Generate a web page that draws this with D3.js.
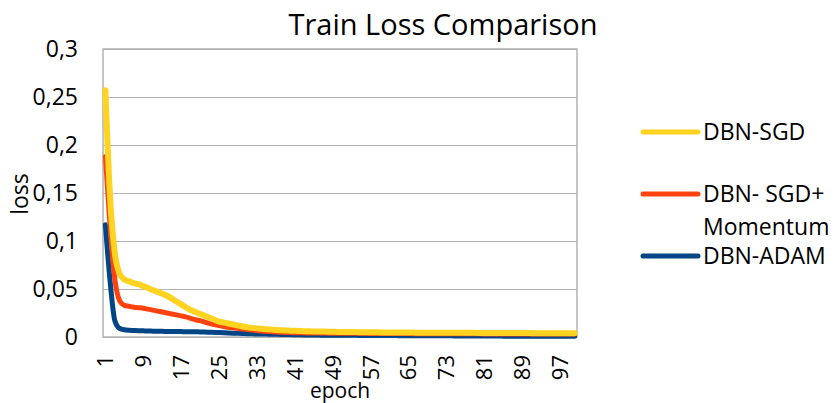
<!DOCTYPE html>
<html>
<head>
<meta charset="utf-8">
<script src="https://cdn.jsdelivr.net/npm/d3@7"></script>
<style>
  body { margin: 0; background: #fff; }
  svg { font-family: "Open Sans", sans-serif; }
</style>
</head>
<body>
<div id="chart"></div>
<script>
// epochs 1..100
const epochs = d3.range(1, 101);
const xTickLabels = [1, 9, 17, 25, 33, 41, 49, 57, 65, 73, 81, 89, 97];
const yTicks = [0, 0.05, 0.1, 0.15, 0.2, 0.25, 0.3];

const seriesNames = ["DBN-SGD", "DBN- SGD+ Momentum", "DBN-ADAM"];

const sgd = [
  0.257, 0.145, 0.087, 0.066, 0.060, 0.058, 0.056, 0.055, 0.053, 0.051,
  0.049, 0.047, 0.045, 0.043, 0.040, 0.037, 0.034, 0.031, 0.028, 0.026,
  0.024, 0.022, 0.020, 0.018, 0.016, 0.015, 0.014, 0.013, 0.012, 0.011,
  0.010, 0.0095, 0.009, 0.0085, 0.008, 0.0077, 0.0074, 0.0071, 0.0068, 0.0066,
  0.0064, 0.0062, 0.006, 0.0059, 0.0058, 0.0057, 0.0056, 0.0055, 0.0054, 0.0053,
  0.0052, 0.0052, 0.0051, 0.0051, 0.005, 0.005, 0.0049, 0.0049, 0.0048, 0.0048,
  0.0047, 0.0047, 0.0047, 0.0046, 0.0046, 0.0046, 0.0045, 0.0045, 0.0045, 0.0045,
  0.0044, 0.0044, 0.0044, 0.0044, 0.0043, 0.0043, 0.0043, 0.0043, 0.0043, 0.0042,
  0.0042, 0.0042, 0.0042, 0.0042, 0.0041, 0.0041, 0.0041, 0.0041, 0.0041, 0.0041,
  0.004, 0.004, 0.004, 0.004, 0.004, 0.004, 0.004, 0.0039, 0.0039, 0.0039
];

const sgdMomentum = [
  0.188, 0.115, 0.060, 0.038, 0.033, 0.032, 0.031, 0.0305, 0.030, 0.029,
  0.028, 0.027, 0.026, 0.025, 0.024, 0.023, 0.022, 0.021, 0.0195, 0.018,
  0.017, 0.0155, 0.014, 0.013, 0.012, 0.011, 0.010, 0.0095, 0.009, 0.0083,
  0.0077, 0.0072, 0.0067, 0.0062, 0.0058, 0.0055, 0.0052, 0.005, 0.0048, 0.0046,
  0.0045, 0.0044, 0.0043, 0.0042, 0.0042, 0.0041, 0.0041, 0.004, 0.004, 0.004,
  0.0039, 0.0039, 0.0039, 0.0038, 0.0038, 0.0038, 0.0037, 0.0037, 0.0037, 0.0037,
  0.0036, 0.0036, 0.0036, 0.0036, 0.0036, 0.0035, 0.0035, 0.0035, 0.0035, 0.0035,
  0.0034, 0.0034, 0.0034, 0.0034, 0.0034, 0.0033, 0.0033, 0.0033, 0.0033, 0.0033,
  0.0032, 0.0032, 0.0032, 0.0032, 0.0032, 0.0031, 0.0031, 0.0031, 0.0031, 0.0031,
  0.0031, 0.003, 0.003, 0.003, 0.003, 0.003, 0.003, 0.003, 0.003, 0.003
];

const adam = [
  0.117, 0.058, 0.017, 0.009, 0.0075, 0.007, 0.0068, 0.0066, 0.0064, 0.0062,
  0.0061, 0.006, 0.0059, 0.0058, 0.0057, 0.0057, 0.0056, 0.0055, 0.0055, 0.0054,
  0.0053, 0.0052, 0.005, 0.0048, 0.0046, 0.0044, 0.0042, 0.004, 0.0038, 0.0036,
  0.0034, 0.0033, 0.0032, 0.0031, 0.003, 0.0029, 0.0028, 0.0027, 0.0026, 0.0025,
  0.0024, 0.0023, 0.0022, 0.0021, 0.002, 0.002, 0.0019, 0.0019, 0.0018, 0.0018,
  0.0018, 0.0017, 0.0017, 0.0017, 0.0016, 0.0016, 0.0016, 0.0016, 0.0015, 0.0015,
  0.0015, 0.0015, 0.0014, 0.0014, 0.0014, 0.0014, 0.0013, 0.0013, 0.0013, 0.0013,
  0.0012, 0.0012, 0.0012, 0.0012, 0.0011, 0.0011, 0.0011, 0.0011, 0.001, 0.001,
  0.001, 0.001, 0.001, 0.001, 0.0009, 0.0009, 0.0009, 0.0009, 0.0009, 0.0009,
  0.0008, 0.0008, 0.0008, 0.0008, 0.0008, 0.0008, 0.0008, 0.0008, 0.0008, 0.0008
];

const colors = { sgd: "#ffd320", momentum: "#ff420e", adam: "#004586" };

const width = 834, height = 403;
const margin = { top: 49, right: 257, bottom: 66, left: 103 };
const chartWidth = width - margin.left - margin.right;
const chartHeight = height - margin.top - margin.bottom;

const svg = d3.select("#chart").append("svg")
  .attr("width", width).attr("height", height)
  .attr("viewBox", `0 0 ${width} ${height}`);

const xScale = d3.scaleBand().domain(epochs).range([0, chartWidth]);
const yScale = d3.scaleLinear().domain([0, 0.3]).range([chartHeight, 0]);

const chart = svg.append("g")
  .attr("transform", `translate(${margin.left}, ${margin.top})`);

// gridlines
chart.append("g").attr("class", "grid")
  .call(d3.axisLeft(yScale).tickValues(yTicks).tickSize(-chartWidth).tickFormat(""))
  .call(g => g.select(".domain").remove())
  .call(g => g.selectAll("line").attr("stroke", "#b3b3b3").attr("stroke-width", 1));

// plot border
chart.append("rect")
  .attr("width", chartWidth).attr("height", chartHeight)
  .attr("fill", "none").attr("stroke", "#b3b3b3").attr("stroke-width", 1.5);

// y axis labels
const fmt = d => String(d).replace(".", ",");
chart.append("g").attr("class", "y-axis")
  .call(d3.axisLeft(yScale).tickValues(yTicks).tickSize(0).tickPadding(25).tickFormat(fmt))
  .call(g => g.select(".domain").remove())
  .call(g => g.selectAll("text").attr("font-size", 23).attr("fill", "#000")
    .attr("font-family", "Open Sans, sans-serif"));

// x axis labels, rotated
chart.append("g").attr("class", "x-axis")
  .attr("transform", `translate(0, ${chartHeight})`)
  .call(d3.axisBottom(xScale).tickValues(xTickLabels).tickSize(0).tickFormat(d => d))
  .call(g => g.select(".domain").remove())
  .call(g => g.selectAll("text")
    .attr("font-size", 22).attr("fill", "#000")
    .attr("font-family", "Open Sans, sans-serif")
    .attr("text-anchor", "end")
    .attr("dy", "0.35em")
    .attr("x", -18).attr("y", 0)
    .attr("transform", "rotate(-90)"));

// axis titles
svg.append("text")
  .attr("x", margin.left + chartWidth / 2).attr("y", 398)
  .attr("text-anchor", "middle").attr("font-size", 21).text("epoch");

svg.append("text")
  .attr("transform", "translate(28, 194) rotate(-90)")
  .attr("text-anchor", "middle").attr("font-size", 23).text("loss");

svg.append("text")
  .attr("x", 443).attr("y", 35)
  .attr("text-anchor", "middle").attr("font-size", 29).text("Train Loss Comparison");

// lines
const line = d3.line()
  .x((d, i) => xScale(epochs[i]) + xScale.bandwidth() / 2)
  .y(d => yScale(d))
  .curve(d3.curveMonotoneX);

const series = [
  { key: "adam", values: adam, width: 5 },
  { key: "momentum", values: sgdMomentum, width: 5 },
  { key: "sgd", values: sgd, width: 6 }
];

chart.selectAll(".series")
  .data(series)
  .enter().append("path")
  .attr("class", "series")
  .attr("d", d => line(d.values))
  .attr("fill", "none")
  .attr("stroke", d => colors[d.key])
  .attr("stroke-width", d => d.width)
  .attr("stroke-linejoin", "round")
  .attr("stroke-linecap", "round");

// legend
const legend = svg.append("g").attr("transform", "translate(643, 0)");
const legendItems = [
  { key: "sgd", lines: ["DBN-SGD"], y: 132 },
  { key: "momentum", lines: ["DBN- SGD+", "Momentum"], y: 194 },
  { key: "adam", lines: ["DBN-ADAM"], y: 256 }
];
legendItems.forEach(item => {
  legend.append("line")
    .attr("x1", 0).attr("x2", 55)
    .attr("y1", item.y).attr("y2", item.y)
    .attr("stroke", colors[item.key]).attr("stroke-width", 5)
    .attr("stroke-linecap", "round");
  item.lines.forEach((t, i) => {
    legend.append("text")
      .attr("x", 60).attr("y", item.y + i * 33)
      .attr("dy", "0.35em").attr("font-size", 23).text(t);
  });
});
</script>
</body>
</html>
